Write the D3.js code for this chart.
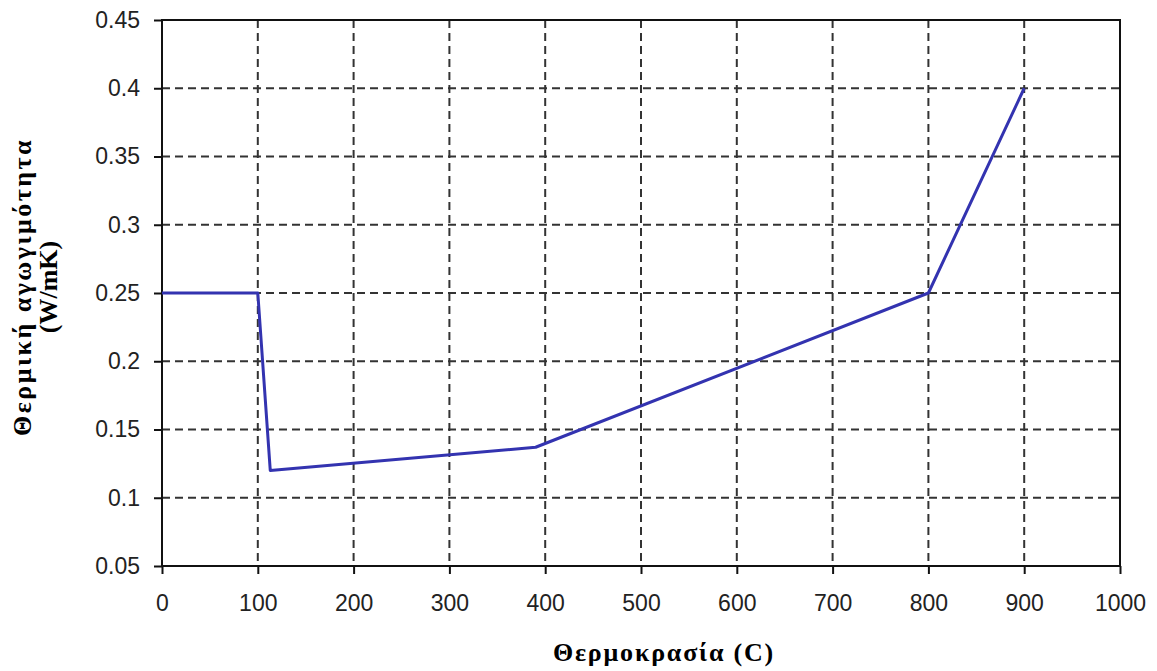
<!DOCTYPE html>
<html>
<head>
<meta charset="utf-8">
<script src="https://cdn.jsdelivr.net/npm/d3@7"></script>
<style>
  body { margin: 0; background: #fff; }
  .tick text { font-family: "Liberation Sans", Arial, sans-serif; font-size: 23px; fill: #222; }
</style>
</head>
<body>
<div id="chart"></div>
<script>
// temperature (C) vs thermal conductivity (W/mK)
const temps = [0, 100, 113, 390, 800, 900];
const conductivity = [0.25, 0.25, 0.12, 0.137, 0.25, 0.4];
const x_ticks = [0, 100, 200, 300, 400, 500, 600, 700, 800, 900, 1000];
const y_ticks = [0.05, 0.1, 0.15, 0.2, 0.25, 0.3, 0.35, 0.4, 0.45];

let chart_width = 1157, chart_height = 671;
let plot_left = 162, plot_right = 1120, plot_top = 20, plot_bottom = 566;

let svg = d3.select("#chart").append("svg")
    .attr("width", chart_width)
    .attr("height", chart_height);

let xScale = d3.scaleLinear().domain([0, 1000]).range([plot_left, plot_right]);
let yScale = d3.scaleLinear().domain([0.05, 0.45]).range([plot_bottom, plot_top]);

// grid
svg.append("g").selectAll("line")
    .data(x_ticks.slice(1, -1))
    .enter()
    .append("line")
    .attr("x1", d => xScale(d)).attr("x2", d => xScale(d))
    .attr("y1", plot_top).attr("y2", plot_bottom)
    .attr("stroke", "#333")
    .attr("stroke-width", 2)
    .attr("stroke-dasharray", "8,5");

svg.append("g").selectAll("line")
    .data(y_ticks.slice(1, -1))
    .enter()
    .append("line")
    .attr("x1", plot_left).attr("x2", plot_right)
    .attr("y1", d => yScale(d)).attr("y2", d => yScale(d))
    .attr("stroke", "#333")
    .attr("stroke-width", 2)
    .attr("stroke-dasharray", "8,5");

// frame
svg.append("rect")
    .attr("x", plot_left).attr("y", plot_top)
    .attr("width", plot_right - plot_left).attr("height", plot_bottom - plot_top)
    .attr("fill", "none")
    .attr("stroke", "#111")
    .attr("stroke-width", 2);

// axes
let xAxis = svg.append("g")
    .attr("transform", "translate(0," + plot_bottom + ")")
    .call(d3.axisBottom(xScale).tickValues(x_ticks).tickFormat(d3.format("d")).tickSize(8).tickPadding(21));
xAxis.select(".domain").remove();
xAxis.selectAll("line").attr("stroke", "#111").attr("stroke-width", 2);

let yAxis = svg.append("g")
    .attr("transform", "translate(" + plot_left + ",0)")
    .call(d3.axisLeft(yScale).tickValues(y_ticks).tickFormat(d => String(+d.toFixed(2))).tickSize(8).tickPadding(14));
yAxis.select(".domain").remove();
yAxis.selectAll("line").attr("stroke", "#111").attr("stroke-width", 2);

// series
let line = d3.line()
    .x((d, i) => xScale(temps[i]))
    .y(d => yScale(d));

svg.append("path")
    .datum(conductivity)
    .attr("d", line)
    .attr("fill", "none")
    .attr("stroke", "#3333b0")
    .attr("stroke-width", 3)
    .attr("stroke-linejoin", "round");

// labels
svg.append("text")
    .attr("x", 664)
    .attr("y", 661)
    .attr("text-anchor", "middle")
    .attr("font-family", "Liberation Serif, Times New Roman, serif")
    .attr("font-weight", "bold")
    .attr("font-size", "26px")
    .attr("letter-spacing", "1.8px")
    .text("Θερμοκρασία (C)");

let ylab = svg.append("text")
    .attr("transform", "translate(31,287) rotate(-90)")
    .attr("text-anchor", "middle")
    .attr("font-family", "Liberation Serif, Times New Roman, serif")
    .attr("font-weight", "bold")
    .attr("font-size", "26px");
ylab.append("tspan").attr("x", 0).attr("dy", 0).attr("letter-spacing", "2.5px").text("Θερμική αγωγιμότητα");
ylab.append("tspan").attr("x", 0).attr("dy", 26).text("(W/mK)");
</script>
</body>
</html>
